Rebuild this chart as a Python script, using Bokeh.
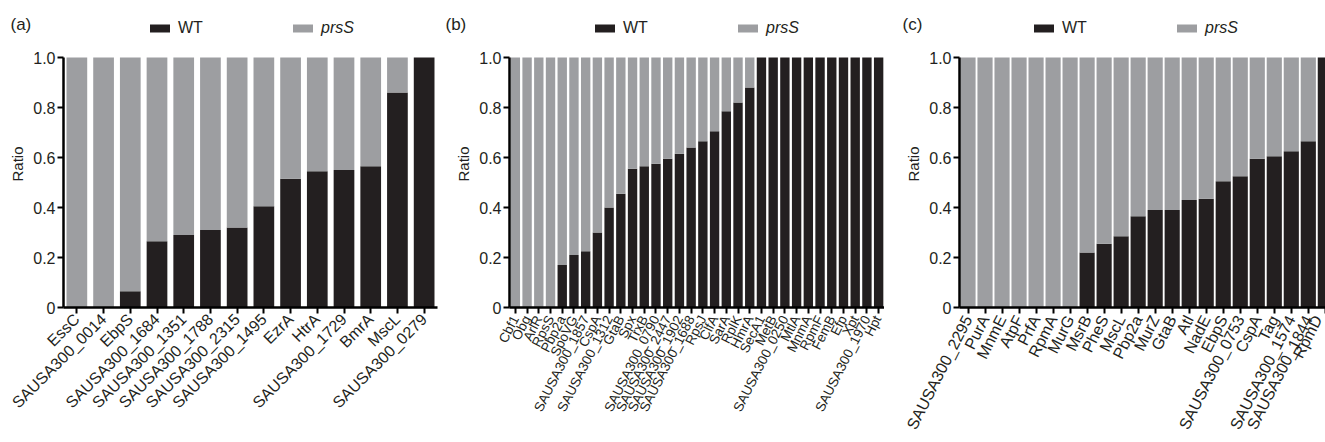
from bokeh.plotting import figure
from bokeh.layouts import row
from bokeh.models import Range1d, FixedTicker, Legend, LegendItem, Label, ColumnDataSource
from bokeh.embed import file_html
from bokeh.resources import INLINE

# ---------------- data ----------------
a_names = ["EssC", "SAUSA300_0014", "EbpS", "SAUSA300_1684", "SAUSA300_1351",
           "SAUSA300_1788", "SAUSA300_2315", "SAUSA300_1495", "EzrA", "HtrA",
           "SAUSA300_1729", "BmrA", "MscL", "SAUSA300_0279"]
a_wt = [0.0, 0.0, 0.065, 0.265, 0.29, 0.31, 0.32, 0.405, 0.515, 0.545,
        0.55, 0.565, 0.86, 1.0]

b_names = ["Cbf1", "Obg", "ArlR", "RpsS", "Pbp2a", "SpoVG", "SAUSA300_1857",
           "CspA", "SAUSA300_1312", "GtaB", "Spx", "TrxB", "SAUSA300_0790",
           "SAUSA300_2447", "SAUSA300_1902", "SAUSA300_1688", "RpsJ", "ClfA",
           "SarA", "RplK", "HmrA", "SecA1", "MetB", "SAUSA300_0250", "MtlA",
           "MnmA", "RpmF", "FemB", "Efp", "Xpt", "SAUSA300_1970", "Hpt"]
b_wt = [0.0, 0.0, 0.0, 0.0, 0.17, 0.21, 0.225, 0.30, 0.40, 0.455, 0.555,
        0.565, 0.575, 0.595, 0.615, 0.64, 0.665, 0.705, 0.785, 0.82, 0.88,
        1.0, 1.0, 1.0, 1.0, 1.0, 1.0, 1.0, 1.0, 1.0, 1.0, 1.0]

c_names = ["SAUSA300_2295", "PurA", "MnmE", "AtpF", "PrfA", "RpmA", "MurG",
           "MsrB", "PheS", "MscL", "Pbp2a", "MurZ", "GtaB", "Atl", "NadE",
           "EbpS", "SAUSA300_0753", "CspA", "Tag", "SAUSA300_1574",
           "SAUSA300_1844", "RpmD"]
c_wt = [0.0, 0.0, 0.0, 0.0, 0.0, 0.0, 0.0, 0.22, 0.255, 0.285, 0.365, 0.39,
        0.39, 0.43, 0.435, 0.505, 0.525, 0.595, 0.605, 0.625, 0.665, 1.0]

y_ticks = [0, 0.2, 0.4, 0.6, 0.8, 1.0]
y_tick_labels = ["0", "0.2", "0.4", "0.6", "0.8", "1.0"]
series_labels = ["WT", "prsS"]
panel_tags = ["(a)", "(b)", "(c)"]

BLACK = "#231f20"
GREY = "#9d9ea1"
FONT = "Liberation Sans"

TOP = 20          # canvas px above the frame
BOTTOM = 135      # canvas px below the frame
PX_PER_UNIT = 250.0
FRAME_H = 442 - TOP - BOTTOM


def panel(tag, names, wt, width, border_left, frame_w, xend, bar_w,
          angle, xsize, leg_x, tag_px):
    n = len(names)
    xs = [i + 0.5 for i in range(n)]
    src = ColumnDataSource(dict(x=xs, wt=wt, one=[1.0] * n))
    p = figure(width=width, height=442, x_range=Range1d(0, xend),
               y_range=Range1d(0, FRAME_H / PX_PER_UNIT),
               output_backend="svg", toolbar_location=None,
               min_border_left=border_left,
               min_border_right=width - border_left - frame_w,
               min_border_top=TOP, min_border_bottom=BOTTOM)
    p.outline_line_color = None
    p.xgrid.visible = False
    p.ygrid.visible = False
    r_wt = p.vbar(x="x", bottom=0, top="wt", width=bar_w, source=src,
                  fill_color=BLACK, line_color=None)
    r_ps = p.vbar(x="x", bottom="wt", top="one", width=bar_w, source=src,
                  fill_color=GREY, line_color=None)

    # x axis
    xa = p.xaxis[0]
    xa.ticker = FixedTicker(ticks=xs)
    xa.major_label_overrides = {x: nm for x, nm in zip(xs, names)}
    xa.major_label_orientation = angle
    xa.major_label_text_font_size = xsize
    xa.major_label_text_font = FONT
    xa.major_label_text_color = "#231f20"
    xa.major_tick_out = 6
    xa.major_tick_in = 0
    xa.major_tick_line_width = 2
    xa.minor_tick_line_color = None
    xa.axis_line_width = 2.5
    xa.major_label_standoff = 3

    # y axis
    ya = p.yaxis[0]
    ya.ticker = FixedTicker(ticks=y_ticks)
    ya.major_label_overrides = {t: l for t, l in zip(y_ticks, y_tick_labels)}
    ya.bounds = (0, 1)
    ya.major_label_text_font_size = "16px"
    ya.major_label_text_font = FONT
    ya.major_label_text_color = "#231f20"
    ya.major_tick_out = 6
    ya.major_tick_in = 0
    ya.major_tick_line_width = 2
    ya.minor_tick_line_color = None
    ya.axis_line_width = 2.5
    ya.major_label_standoff = 2
    ya.axis_label = "Ratio"
    ya.axis_label_text_font = FONT
    ya.axis_label_text_font_style = "normal"
    ya.axis_label_text_font_size = "15px"
    ya.axis_label_text_color = "#231f20"
    ya.axis_label_standoff = 4

    # legend (centre ~26 px below canvas top)
    leg_bottom = 442 - BOTTOM - 37
    for lab, rend, lx, style in zip(series_labels, [r_wt, r_ps], leg_x,
                                    ["normal", "italic"]):
        leg = Legend(items=[LegendItem(label=lab, renderers=[rend])],
                     location=(lx, leg_bottom), orientation="horizontal",
                     border_line_color=None, background_fill_alpha=0,
                     padding=0, margin=0, glyph_width=25, glyph_height=10,
                     label_standoff=6, label_text_font=FONT,
                     label_text_font_size="16px",
                     label_text_font_style=style,
                     label_text_color="#231f20")
        p.add_layout(leg)

    # panel tag in a side panel above the frame, so it is not clipped
    p.add_layout(Label(x=tag_px, y=TOP - 24, x_units="screen",
                       y_units="screen", text=tag, text_font=FONT,
                       text_font_size="17px", text_baseline="middle",
                       text_color="#231f20"),
                 "above")
    return p


pa = panel(panel_tags[0], a_names, a_wt, 441, 63, 374, 14, 0.775,
           0.785, "16px", (84, 227), -53)
pb = panel(panel_tags[1], b_names, b_wt, 443, 68, 375, 32, 0.8,
           1.1, "13.5px", (83, 226), -64)
pc = panel(panel_tags[2], c_names, c_wt, 441, 75, 366, 21.51, 0.89,
           1.1, "16px", (72, 215), -57)

layout = row(pa, pb, pc, spacing=0)
open("out.html", "w").write(file_html(layout, INLINE))
